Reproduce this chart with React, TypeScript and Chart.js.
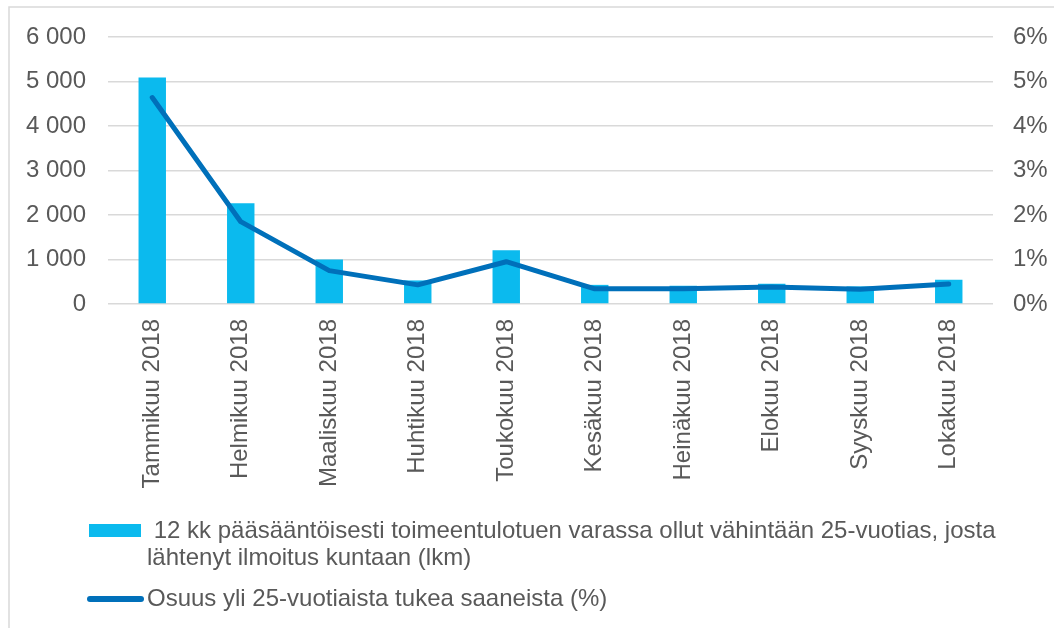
import React, { useEffect, useRef } from "react";
import { Chart, registerables } from "chart.js";

Chart.register(...registerables);

const months = [
  "Tammikuu 2018",
  "Helmikuu 2018",
  "Maaliskuu 2018",
  "Huhtikuu 2018",
  "Toukokuu 2018",
  "Kesäkuu 2018",
  "Heinäkuu 2018",
  "Elokuu 2018",
  "Syyskuu 2018",
  "Lokakuu 2018",
];
const counts = [5090, 2265, 1000, 530, 1210, 430, 410, 455, 395, 545];
const shares = [4.64, 1.85, 0.75, 0.43, 0.95, 0.34, 0.34, 0.38, 0.33, 0.45];
const barLabel =
  " 12 kk pääsääntöisesti toimeentulotuen varassa ollut vähintään 25-vuotias, josta lähtenyt ilmoitus kuntaan (lkm)";
const lineLabel = "Osuus yli 25-vuotiaista tukea saaneista (%)";

const BAR_COLOR = "#0BBAEE";
const LINE_COLOR = "#0070BA";
const TEXT_COLOR = "#595959";
const GRID_COLOR = "#d9d9d9";
const FONT_FAMILY = "'Liberation Sans', Arial, sans-serif";
const FONT_SIZE = 24;

function wrap(ctx: CanvasRenderingContext2D, text: string, maxW: number): string[] {
  const lead = text.match(/^\s*/)?.[0] ?? "";
  const words = text.trim().split(" ");
  const lines: string[] = [];
  let cur = lead;
  let first = true;
  for (const w of words) {
    const test = first ? cur + w : cur + " " + w;
    if (!first && ctx.measureText(test).width > maxW) {
      lines.push(cur);
      cur = w;
    } else {
      cur = test;
    }
    first = false;
  }
  if (cur !== "") lines.push(cur);
  return lines;
}

const framePlugin = {
  id: "frame",
  beforeDraw(chart: any) {
    const ctx = chart.ctx;
    ctx.save();
    ctx.strokeStyle = GRID_COLOR;
    ctx.lineWidth = 1.5;
    ctx.beginPath();
    ctx.moveTo(9, chart.height);
    ctx.lineTo(9, 7);
    ctx.lineTo(chart.width, 7);
    ctx.stroke();
    ctx.restore();
  },
  afterDraw(chart: any) {
    const ctx = chart.ctx;
    const ds = chart.data.datasets;
    ctx.save();
    ctx.font = `${FONT_SIZE}px ${FONT_FAMILY}`;
    ctx.fillStyle = TEXT_COLOR;
    ctx.textBaseline = "alphabetic";
    ctx.textAlign = "left";
    const textX = 147;
    const lines = wrap(ctx, ds[1].label, 996 - textX);
    // bar legend
    ctx.fillStyle = ds[1].backgroundColor;
    ctx.fillRect(89, 524, 52, 13);
    ctx.fillStyle = TEXT_COLOR;
    lines.forEach((l: string, i: number) => ctx.fillText(l, textX, 538 + i * 27));
    // line legend
    ctx.strokeStyle = ds[0].borderColor;
    ctx.lineWidth = 6;
    ctx.lineCap = "round";
    ctx.beginPath();
    ctx.moveTo(90, 599);
    ctx.lineTo(141, 599);
    ctx.stroke();
    ctx.fillText(ds[0].label, textX, 606);
    ctx.restore();
  },
};

export default function App() {
  const ref = useRef<HTMLCanvasElement>(null);
  useEffect(() => {
    if (!ref.current) return;
    const font = { family: FONT_FAMILY, size: FONT_SIZE };
    const chart = new Chart(ref.current, {
      type: "bar",
      data: {
        labels: months,
        datasets: [
          {
            type: "line",
            label: lineLabel,
            data: shares,
            yAxisID: "y1",
            borderColor: LINE_COLOR,
            backgroundColor: LINE_COLOR,
            borderWidth: 5,
            pointRadius: 0,
            borderCapStyle: "round",
            borderJoinStyle: "round",
            tension: 0,
            order: 0,
          } as any,
          {
            type: "bar",
            label: barLabel,
            data: counts,
            yAxisID: "y",
            backgroundColor: BAR_COLOR,
            barPercentage: 0.31,
            categoryPercentage: 1,
            order: 1,
          },
        ],
      },
      options: {
        responsive: false,
        animation: false,
        devicePixelRatio: 1,
        layout: { padding: { top: 37, left: 0, right: 0, bottom: 0 } },
        plugins: { legend: { display: false }, tooltip: { enabled: false } },
        scales: {
          x: {
            grid: { display: false, drawTicks: false },
            border: { display: false },
            ticks: {
              font,
              color: TEXT_COLOR,
              maxRotation: 90,
              minRotation: 90,
              autoSkip: false,
              padding: 15,
            },
            afterFit: (s: any) => {
              s.height = 324;
            },
          },
          y: {
            position: "left",
            min: 0,
            max: 6000,
            grid: { color: GRID_COLOR, lineWidth: 1.5, drawTicks: false },
            border: { display: false },
            ticks: {
              font,
              color: TEXT_COLOR,
              stepSize: 1000,
              padding: 22,
              callback: (v: any) => {
                const n = Number(v);
                if (n < 1000) return String(n);
                const th = Math.floor(n / 1000);
                const rest = String(n % 1000).padStart(3, "0");
                return th + " " + rest;
              },
            },
            afterFit: (s: any) => {
              s.width = 108;
            },
          },
          y1: {
            position: "right",
            min: 0,
            max: 6,
            grid: { display: false, drawTicks: false },
            border: { display: false },
            ticks: {
              font,
              color: TEXT_COLOR,
              stepSize: 1,
              padding: 20,
              callback: (v: any) => Math.round(Number(v)) + "%",
            },
            afterFit: (s: any) => {
              s.width = 61;
            },
          },
        },
      },
      plugins: [framePlugin],
    });
    return () => chart.destroy();
  }, []);
  return (
    <div style={{ position: "absolute", left: 0, top: 0, width: 1054, height: 628, background: "#fff" }}>
      <canvas ref={ref} width={1054} height={628} />
    </div>
  );
}
